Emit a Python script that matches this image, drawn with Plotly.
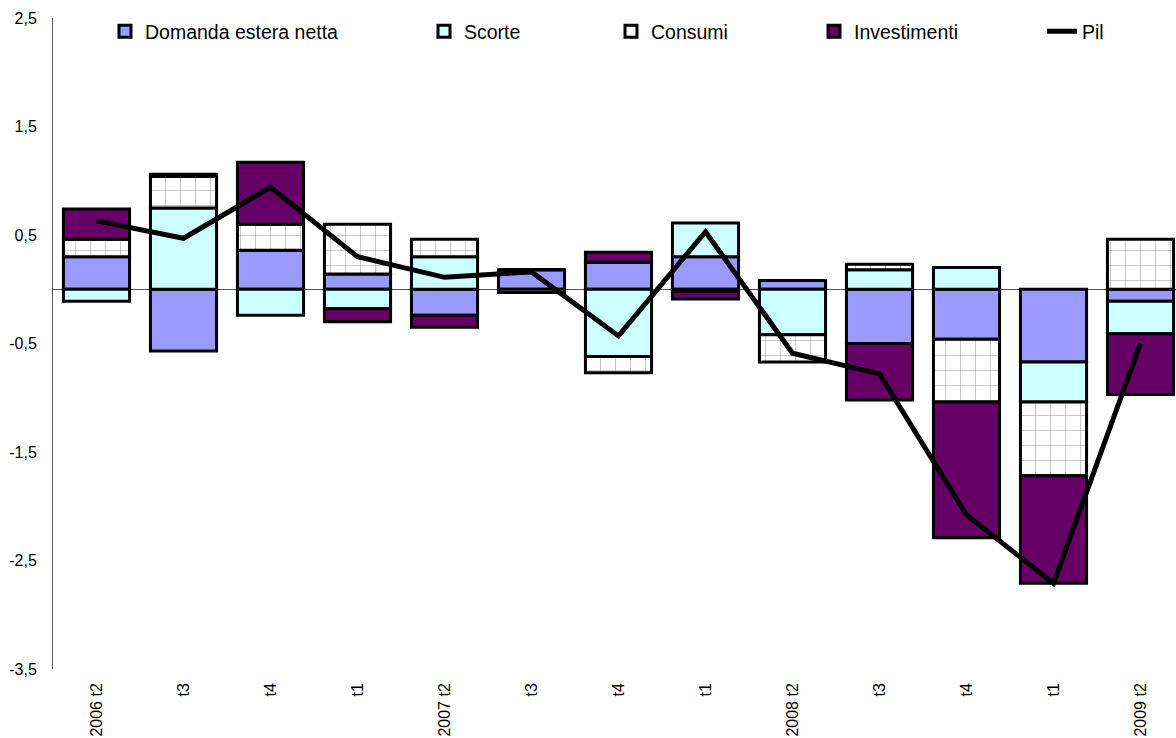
import plotly.graph_objects as go

# Quarterly contributions to GDP growth (percentage points)
periodi = ["2006 t2", "t3", "t4", "t1", "2007 t2", "t3", "t4", "t1",
           "2008 t2", "t3", "t4", "t1", "2009 t2"]
domanda_estera = [0.30, -0.57, 0.36, 0.14, -0.24, 0.18, 0.25, 0.30, 0.08, -0.50, -0.46, -0.67, -0.11]
scorte = [-0.11, 0.75, -0.24, -0.18, 0.30, -0.03, -0.62, 0.31, -0.42, 0.18, 0.20, -0.37, -0.30]
consumi = [0.16, 0.29, 0.24, 0.46, 0.16, 0.0, -0.15, -0.02, -0.25, 0.05, -0.58, -0.68, 0.46]
investimenti = [0.28, 0.02, 0.57, -0.12, -0.11, 0.0, 0.09, -0.07, 0.0, -0.52, -1.25, -0.99, -0.56]
pil = [0.63, 0.47, 0.94, 0.30, 0.11, 0.16, -0.43, 0.53, -0.59, -0.78, -2.08, -2.71, -0.50]

y_ticks = [2.5, 1.5, 0.5, -0.5, -1.5, -2.5, -3.5]
y_tick_text = ["2,5", "1,5", "0,5", "-0,5", "-1,5", "-2,5", "-3,5"]

FONT = "Liberation Sans, Arial, sans-serif"
x = list(range(len(periodi)))
border = dict(color="black", width=3)

fig = go.Figure()
fig.add_trace(go.Bar(x=x, y=domanda_estera, name="Domanda estera netta", showlegend=True,
                     marker=dict(color="#9999FF", line=border), legend="legend"))
fig.add_trace(go.Bar(x=x, y=scorte, name="Scorte", showlegend=True,
                     marker=dict(color="#CCFFFF", line=border), legend="legend2"))
fig.add_trace(go.Bar(x=x, y=consumi, name="Consumi", showlegend=True,
                     marker=dict(color="white", line=border,
                                 pattern=dict(shape="+", size=15, solidity=0.07,
                                              fgcolor="#333333", bgcolor="white")),
                     legend="legend3"))
fig.add_trace(go.Bar(x=x, y=investimenti, name="Investimenti", showlegend=True,
                     marker=dict(color="#660066", line=border), legend="legend4"))
fig.add_trace(go.Scatter(x=x, y=pil, name="Pil", mode="lines", showlegend=True,
                         line=dict(color="black", width=5), legend="legend5"))

W, H = 1176, 738
ML, MT, MB = 53, 18, 69
plot_w = W - ML


def legend_at(px_left):
    return dict(x=(px_left - ML) / plot_w, xanchor="left", y=0.979, yanchor="middle",
                orientation="h", bgcolor="rgba(0,0,0,0)", visible=True,
                font=dict(family=FONT, size=19.5, color="black"))


fig.update_layout(
    width=W, height=H,
    margin=dict(l=ML, r=0, t=MT, b=MB),
    paper_bgcolor="white", plot_bgcolor="white",
    showlegend=True,
    barmode="relative", bargap=0.24,
    font=dict(family=FONT, size=16, color="black"),
    legend=legend_at(105),
    legend2=legend_at(424),
    legend3=legend_at(611),
    legend4=legend_at(814),
    legend5=legend_at(1042),
    xaxis=dict(range=[-0.5, -0.5 + plot_w / 87.0], tickvals=x, ticktext=periodi,
               tickangle=-90, showgrid=False, zeroline=False, showline=False,
               ticks="", automargin=False, ticklabelstandoff=10, tickfont=dict(size=16)),
    yaxis=dict(range=[-3.5, 2.5], tickvals=y_ticks, ticktext=y_tick_text,
               showgrid=False, zeroline=True, zerolinecolor="#555555", zerolinewidth=1,
               showline=True, linecolor="#555555", linewidth=1, ticks="",
               ticklabelstandoff=12, automargin=False, tickfont=dict(size=16)),
)

fig.write_html("out.html")
